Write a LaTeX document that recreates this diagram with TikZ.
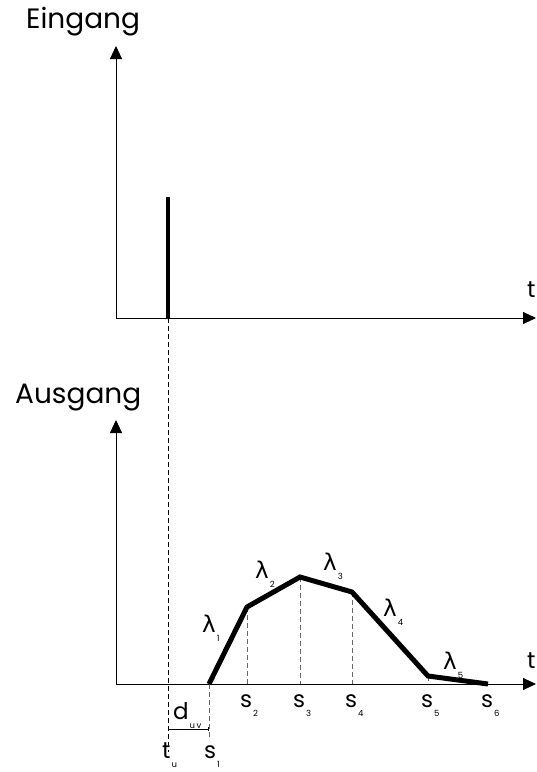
\documentclass[tikz,border=0pt]{standalone}
\usepackage{fontspec}
\newfontfamily\gothfont{Poppins}
\newfontfamily\greekfont{DejaVu Sans}
\usetikzlibrary{arrows.meta}

% main letter with its index set low, as in the drawing
\newcommand{\lowsub}[2]{#1\kern1pt\raisebox{-9pt}{\gothfont\fontsize{8.5}{8.5}\selectfont #2}}

\tikzset{
  axis/.style={line width=0.9pt, -{Triangle[length=13pt, width=12pt]}},
  signal/.style={line width=5pt},
  guide/.style={dashed, dash pattern=on 5pt off 3pt, line width=0.7pt},
  lbl/.style={inner sep=0pt, anchor=base west, font=\gothfont\fontsize{23}{23}\selectfont},
  title/.style={inner sep=0pt, anchor=base west, font=\gothfont\fontsize{28}{28}\selectfont},
  lam/.style={inner sep=0pt, anchor=base west, font=\greekfont\fontsize{23}{23}\selectfont},
}

\begin{document}
\begin{tikzpicture}[x=1pt, y=-1pt]
\useasboundingbox (0,0) rectangle (537,772);

% --- Eingang ---
\coordinate (inO) at (116,318);
\coordinate (inY) at (116,46);
\coordinate (inX) at (536,318);
\draw[axis] (inO) -- (inY);
\draw[axis] (inO) -- (inX);
\node[title] (inT) at (26,28) {Eingang};
\node[lbl] (inTt) at (527,297) {t};

% impulse
\coordinate (imp0) at (168,318);
\coordinate (imp1) at (168,197);
\draw[line width=4pt] (imp0) -- (imp1);

% --- Ausgang ---
\coordinate (outO) at (116,684);
\coordinate (outY) at (116,420);
\coordinate (outX) at (536,684);
\draw[axis] (outO) -- (outY);
\draw[axis] (outO) -- (outX);
\node[title] (outT) at (15,403) {Ausgang};
\node[lbl] (outTt) at (527,668) {t};

% break points
\coordinate (s1) at (209,684);
\coordinate (s2) at (247,607);
\coordinate (s3) at (300,577);
\coordinate (s4) at (352,592);
\coordinate (s5) at (428,676);
\coordinate (s6) at (488,684);

% guides
\coordinate (tu) at (168,752);
\coordinate (s1b) at (209,740);
\draw[guide] (imp0) -- (tu);
\draw[guide, gray!80!black] (s1) -- (s1b);
\foreach \p in {s2, s3, s4, s5} {
  \draw[guide, gray!80!black] (\p) -- (\p |- outO);
}

% response
\draw[signal, line join=miter] (s1) -- (s2) -- (s3) -- (s4) -- (s5) -- (s6);

% slopes
\node[lam] (l1) at (202,632) {\lowsub{λ}{1}};
\node[lam] (l2) at (255,578) {\lowsub{λ}{2}};
\node[lam] (l3) at (323,570) {\lowsub{λ}{3}};
\node[lam] (l4) at (383,616) {\lowsub{λ}{4}};
\node[lam] (l5) at (443,669) {\lowsub{λ}{5}};

% times
\node[lbl] (ls2) at (240,707) {\lowsub{s}{2}};
\node[lbl] (ls3) at (293,707) {\lowsub{s}{3}};
\node[lbl] (ls4) at (345,707) {\lowsub{s}{4}};
\node[lbl] (ls5) at (421,707) {\lowsub{s}{5}};
\node[lbl] (ls6) at (481,707) {\lowsub{s}{6}};
\node[lbl] (ls1) at (204,758) {\lowsub{s}{1}};
\node[lbl] (ltu) at (162,758) {\lowsub{t}{u}};

% delay
\coordinate (d0) at (168,729);
\coordinate (d1) at (209,729);
\draw[line width=0.7pt, {Bar[width=4pt]}-{Bar[width=4pt]}] (d0) -- (d1);
\node[lbl] (ldl) at (173,719) {\lowsub{d}{u\,v}};

\end{tikzpicture}
\end{document}
